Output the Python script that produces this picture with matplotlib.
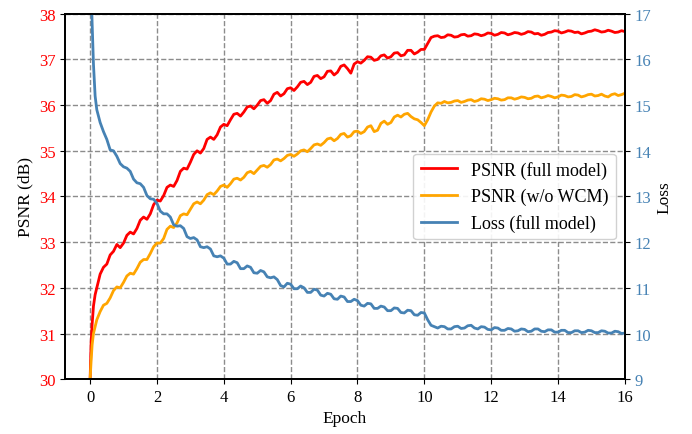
import numpy as np
import matplotlib
matplotlib.use('Agg')
import matplotlib.pyplot as plt

# ==========================================
# DATA
# ==========================================
early_epochs = [0.0, 0.03, 0.06, 0.1, 0.15]
grid_epochs = list(np.round(np.arange(0.2, 16.001, 0.1), 1))
epochs = early_epochs + grid_epochs

psnr_full = [30.0, 30.8, 31.2, 31.6, 31.85,
    32.00, 32.30, 32.45, 32.52, 32.72, 32.80, 32.95, 32.88, 32.98, 33.15,
    33.22, 33.18, 33.30, 33.48, 33.55, 33.50, 33.62, 33.82, 33.92, 33.90,
    34.02, 34.20, 34.25, 34.22, 34.35, 34.55, 34.62, 34.60, 34.75, 34.92,
    35.00, 34.95, 35.05, 35.25, 35.30, 35.25, 35.35, 35.52, 35.58, 35.55,
    35.68, 35.80, 35.82, 35.76, 35.85, 35.96, 35.98, 35.92, 36.00, 36.10,
    36.12, 36.04, 36.10, 36.24, 36.28, 36.20, 36.25, 36.36, 36.38, 36.32,
    36.40, 36.50, 36.52, 36.45, 36.50, 36.63, 36.65, 36.58, 36.62, 36.74,
    36.75, 36.66, 36.72, 36.85, 36.88, 36.80, 36.70, 36.90, 36.95, 36.92,
    36.98, 37.06, 37.05, 36.98, 37.00, 37.08, 37.10, 37.03, 37.06, 37.14,
    37.15, 37.08, 37.10, 37.20, 37.20, 37.12, 37.16, 37.22, 37.22, 37.35,
    37.48, 37.51, 37.52, 37.48, 37.49, 37.54, 37.53, 37.49, 37.50, 37.54,
    37.55, 37.51, 37.52, 37.56, 37.55, 37.52, 37.54, 37.58, 37.57, 37.53,
    37.55, 37.59, 37.58, 37.54, 37.56, 37.59, 37.58, 37.55, 37.57, 37.61,
    37.60, 37.56, 37.57, 37.53, 37.55, 37.59, 37.60, 37.63, 37.62, 37.58,
    37.60, 37.63, 37.62, 37.59, 37.60, 37.56, 37.58, 37.61, 37.62, 37.65,
    37.63, 37.60, 37.61, 37.64, 37.62, 37.59, 37.60, 37.63, 37.61]

psnr_wo_wcm = [30.0, 30.4, 30.75, 31.0, 31.15,
    31.30, 31.48, 31.62, 31.66, 31.78, 31.94, 32.02, 32.00, 32.12, 32.26,
    32.32, 32.30, 32.42, 32.56, 32.62, 32.62, 32.75, 32.90, 32.98, 32.98,
    33.08, 33.28, 33.35, 33.32, 33.42, 33.58, 33.62, 33.60, 33.72, 33.84,
    33.88, 33.84, 33.92, 34.04, 34.08, 34.04, 34.12, 34.22, 34.25, 34.20,
    34.28, 34.38, 34.40, 34.36, 34.42, 34.52, 34.55, 34.50, 34.58, 34.66,
    34.68, 34.64, 34.70, 34.80, 34.82, 34.78, 34.83, 34.90, 34.92, 34.88,
    34.93, 35.00, 35.02, 34.98, 35.05, 35.13, 35.15, 35.12, 35.18, 35.26,
    35.28, 35.22, 35.27, 35.36, 35.38, 35.30, 35.33, 35.42, 35.43, 35.38,
    35.42, 35.52, 35.55, 35.42, 35.45, 35.60, 35.65, 35.58, 35.62, 35.74,
    35.78, 35.74, 35.80, 35.82, 35.75, 35.70, 35.68, 35.62, 35.55, 35.68,
    35.85, 35.98, 36.05, 36.04, 36.08, 36.05, 36.06, 36.09, 36.10, 36.06,
    36.08, 36.11, 36.12, 36.08, 36.10, 36.14, 36.13, 36.10, 36.12, 36.15,
    36.14, 36.11, 36.12, 36.16, 36.16, 36.13, 36.15, 36.18, 36.17, 36.14,
    36.15, 36.19, 36.20, 36.16, 36.18, 36.21, 36.19, 36.16, 36.18, 36.22,
    36.21, 36.18, 36.19, 36.23, 36.22, 36.18, 36.20, 36.23, 36.24, 36.20,
    36.21, 36.24, 36.20, 36.18, 36.23, 36.25, 36.21, 36.23, 36.26]

loss_full = [18.5, 17.6, 16.8, 15.9, 15.2,
    14.90, 14.62, 14.42, 14.25, 14.02, 14.00, 13.88, 13.72, 13.65, 13.62,
    13.55, 13.38, 13.30, 13.28, 13.20, 13.02, 12.95, 12.94, 12.85, 12.68,
    12.62, 12.62, 12.55, 12.38, 12.35, 12.36, 12.30, 12.12, 12.08, 12.10,
    12.05, 11.90, 11.88, 11.90, 11.85, 11.70, 11.68, 11.70, 11.65, 11.52,
    11.52, 11.58, 11.55, 11.42, 11.42, 11.48, 11.45, 11.33, 11.32, 11.38,
    11.35, 11.24, 11.22, 11.24, 11.18, 11.05, 11.02, 11.10, 11.08, 10.98,
    10.98, 11.04, 11.00, 10.90, 10.90, 10.97, 10.95, 10.84, 10.82, 10.88,
    10.86, 10.76, 10.75, 10.82, 10.80, 10.70, 10.70, 10.75, 10.72, 10.62,
    10.60, 10.66, 10.65, 10.55, 10.55, 10.60, 10.58, 10.50, 10.50, 10.56,
    10.55, 10.46, 10.45, 10.51, 10.50, 10.41, 10.40, 10.46, 10.45, 10.30,
    10.18, 10.15, 10.12, 10.16, 10.15, 10.10, 10.10, 10.15, 10.16, 10.11,
    10.12, 10.17, 10.18, 10.12, 10.10, 10.15, 10.14, 10.09, 10.08, 10.13,
    10.12, 10.07, 10.07, 10.11, 10.10, 10.05, 10.06, 10.10, 10.09, 10.04,
    10.05, 10.10, 10.10, 10.05, 10.04, 10.08, 10.08, 10.03, 10.03, 10.07,
    10.07, 10.02, 10.02, 10.06, 10.06, 10.02, 10.03, 10.07, 10.06, 10.02,
    10.02, 10.06, 10.05, 10.01, 10.01, 10.05, 10.04, 10.00, 10.01]

x_ticks = list(range(0, 17, 2))
psnr_ticks = list(range(30, 39))
loss_ticks = list(range(9, 18))

# ==========================================
# PLOT
# ==========================================
plt.rcParams['font.family'] = ['Liberation Serif', 'DejaVu Serif']
plt.rcParams['font.size'] = 12

fig = plt.figure(figsize=(6.92, 4.35), dpi=100)
ax1 = fig.add_axes([0.094, 0.126, 0.809, 0.840])
ax2 = ax1.twinx()

l1, = ax1.plot(epochs, psnr_full, color='#ff0000', linewidth=2, label='PSNR (full model)')
l2, = ax1.plot(epochs, psnr_wo_wcm, color='#ffa500', linewidth=2, label='PSNR (w/o WCM)')
l3, = ax2.plot(epochs, loss_full, color='#4682b4', linewidth=2, label='Loss (full model)')

ax1.set_xlim(-0.75, 16)
ax1.set_ylim(30, 38)
ax2.set_ylim(9, 17)
ax1.set_xticks(x_ticks)
ax1.set_yticks(psnr_ticks)
ax2.set_yticks(loss_ticks)

ax1.set_xlabel('Epoch', fontsize=12.5)
ax1.set_ylabel('PSNR (dB)', fontsize=12.5)
ax2.set_ylabel('Loss', fontsize=12.5)

for lab in ax1.get_yticklabels():
    lab.set_color('#ff0000')
for lab in ax2.get_yticklabels():
    lab.set_color('#4682b4')

ax1.grid(True, linestyle='--', color='gray', linewidth=1, alpha=0.9)
for ax in (ax1, ax2):
    for sp in ax.spines.values():
        sp.set_linewidth(1.3)

ax2.legend(handles=[l1, l2, l3], loc='center right', fontsize=13, framealpha=0.9)

plt.savefig('out.png', dpi=100)
